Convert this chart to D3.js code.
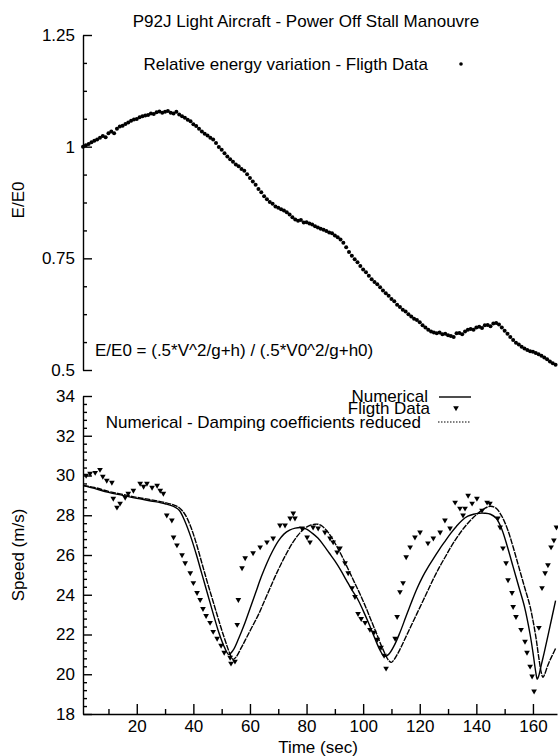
<!DOCTYPE html>
<html>
<head>
<meta charset="utf-8">
<script src="https://cdn.jsdelivr.net/npm/d3@7"></script>
<style>
  html, body { margin: 0; padding: 0; background: #fff; }
  svg { display: block; }
  text { font-family: Arial, "Liberation Sans", sans-serif; fill: #000; }
</style>
</head>
<body>
<svg id="chart" width="558" height="756"></svg>
<script>
// ---- Texts ----
const titleText = "P92J Light Aircraft - Power Off Stall Manouvre";
const energyLegend = "Relative energy variation - Fligth Data";
const energyFormula = "E/E0 = (.5*V^2/g+h) / (.5*V0^2/g+h0)";
const speedLegend = ["Numerical", "Fligth Data", "Numerical - Damping coefficients reduced"];

// ---- Tick values and labels ----
const energyTicks = [0.5, 0.75, 1, 1.25];
const energyTickLabels = ["0.5", "0.75", "1", "1.25"];
const speedTicks = [18, 20, 22, 24, 26, 28, 30, 32, 34];
const speedTickLabels = ["18", "20", "22", "24", "26", "28", "30", "32", "34"];
const timeTicks = [20, 40, 60, 80, 100, 120, 140, 160];
const timeTickLabels = ["20", "40", "60", "80", "100", "120", "140", "160"];
const timeMinorTicks = [10, 30, 50, 70, 90, 110, 130, 150];

// ---- Relative energy, flight data (one sample per second from t = 1 s) ----
const energyTime = d3.range(1, 169);
const energyValues = [
  1.000,1.003,1.006,1.010,1.013,1.016,1.020,1.024,1.021,1.030,
  1.034,1.030,1.040,1.045,1.047,1.051,1.054,1.058,1.061,1.062,
  1.066,1.068,1.070,1.071,1.074,1.073,1.077,1.079,1.076,1.078,
  1.080,1.076,1.074,1.078,1.072,1.068,1.065,1.060,1.057,1.050,
  1.046,1.040,1.034,1.029,1.025,1.020,1.016,1.008,0.999,0.993,
  0.985,0.978,0.972,0.966,0.960,0.956,0.950,0.946,0.938,0.930,
  0.922,0.915,0.905,0.898,0.889,0.882,0.876,0.872,0.866,0.863,
  0.860,0.857,0.853,0.848,0.842,0.837,0.834,0.836,0.830,0.831,
  0.828,0.826,0.822,0.819,0.816,0.814,0.811,0.808,0.806,0.801,
  0.797,0.792,0.785,0.775,0.764,0.756,0.748,0.741,0.733,0.725,
  0.719,0.711,0.703,0.697,0.692,0.685,0.678,0.672,0.666,0.659,
  0.654,0.646,0.641,0.635,0.631,0.625,0.620,0.615,0.612,0.607,
  0.600,0.595,0.590,0.586,0.584,0.582,0.584,0.580,0.581,0.578,
  0.576,0.574,0.582,0.583,0.580,0.586,0.590,0.592,0.590,0.595,
  0.597,0.594,0.600,0.601,0.598,0.604,0.605,0.602,0.595,0.588,
  0.581,0.574,0.567,0.561,0.557,0.552,0.548,0.545,0.542,0.541,
  0.538,0.535,0.532,0.528,0.524,0.519,0.515,0.512
];

// ---- Speed, numerical model ----
const numTime = [1,5,10,15,20,25,30,33,35,37,39,41,43,45,47,49,51,52.5,54,56,
  58,60,62,64,66,68,70,72,74,76,78,80,82,84,86,88,90,92,94,96,
  98,100,102,104,106,107.5,109,111,113,115,117,119,121,123,125,127,129,131,133,135,
  137,139,141,143,145,147,149,151,153,155,157,159,160,161,161.5,162,163,164,166,168];
const numSpeed = [29.5,29.35,29.15,29.0,28.85,28.72,28.58,28.45,28.25,27.7,
  26.95,26.05,25.05,24.05,23.05,22.1,21.35,21.0,21.2,21.8,
  22.5,23.3,24.1,24.9,25.6,26.2,26.7,27.05,27.25,27.35,
  27.38,27.3,27.1,26.85,26.5,26.1,25.7,25.25,24.75,24.25,
  23.8,23.2,22.55,21.85,21.2,20.9,21.0,21.45,22.1,22.85,
  23.6,24.3,24.9,25.4,25.85,26.3,26.7,27.1,27.45,27.75,
  27.95,28.05,28.1,28.1,28.05,27.85,27.3,26.4,25.4,24.4,
  23.4,22.0,21.1,20.1,19.75,19.9,20.5,21.1,22.4,23.7];

// ---- Speed, numerical model with reduced damping coefficients ----
const redTime = [1,5,10,15,20,25,30,33,35,37,39,41,43,45,47,49,51,53,54,55,
  57,59,61,63,65,67,69,71,73,75,77,79,81,83,84,85,87,89,91,93,
  95,97,99,101,103,105,107,109,110,111,113,115,117,119,121,123,125,127,129,131,
  133,135,137,139,141,143,145,147,149,151,153,155,157,159,161,162,163,163.5,164,165,
  166,167,168];
const redSpeed = [29.5,29.4,29.2,29.05,28.9,28.78,28.64,28.52,28.38,28.05,
  27.45,26.6,25.6,24.6,23.65,22.7,21.8,21.0,20.75,20.85,
  21.35,21.9,22.45,23.0,23.65,24.3,24.95,25.55,26.1,26.6,
  27.0,27.3,27.48,27.55,27.55,27.5,27.25,26.85,26.35,25.8,
  25.2,24.6,24.0,23.35,22.65,21.95,21.25,20.7,20.6,20.75,
  21.25,21.85,22.45,23.05,23.65,24.25,24.85,25.4,25.9,26.4,
  26.85,27.25,27.6,27.9,28.15,28.35,28.45,28.35,27.95,27.3,
  26.4,25.4,24.4,23.4,21.9,20.9,20.05,19.85,19.95,20.35,
  20.7,21.0,21.3];

// ---- Speed, flight data ----
const flightTime = [2.1,3.5,5.3,7.0,8.0,9.4,11.2,11.7,13.0,14.1,15.9,17.0,18.8,21.2,22.4,23.6,25.4,27.2,28.3,29.4,
  30.6,32.4,33.0,34.2,36.0,37.1,38.9,40.0,41.3,42.4,43.4,44.5,45.9,47.0,48.4,49.8,50.9,53.0,53.3,54.7,
  55.5,55.9,57.2,58.3,61.1,63.6,66.0,68.2,70.6,72.4,74.2,75.3,75.9,78.4,80.2,81.2,82.3,84.1,86.5,88.3,
  89.4,90.8,91.8,93.6,94.7,96.1,97.1,98.2,99.3,100.7,102.4,103.8,105.0,106.3,107.4,108.1,111.3,112.0,113.0,114.1,
  115.2,116.6,118.3,120.1,122.9,124.8,127.2,128.9,130.7,132.5,134.2,135.3,136.0,137.1,138.5,140.2,142.0,143.8,144.8,147.6,
  148.4,149.4,150.5,151.2,152.6,153.0,154.0,155.8,157.2,157.9,159.0,159.7,160.4,162.1,163.2,164.3,165.3,166.4,167.4,168.3];
const flightSpeed = [30.0,30.1,30.15,30.3,29.95,29.75,29.65,28.85,28.4,28.6,28.9,29.1,29.25,29.6,29.45,29.6,29.4,29.5,29.25,29.1,
  28.0,27.75,26.9,26.5,26.0,25.6,25.1,24.6,24.1,23.75,23.3,22.95,22.6,22.15,21.8,21.45,21.1,20.85,20.55,20.65,
  22.5,23.75,25.35,25.85,26.1,26.4,26.65,26.85,27.5,27.5,27.85,28.1,27.85,27.35,26.9,26.65,27.4,27.35,27.15,26.85,
  26.65,26.15,26.35,25.6,25.1,24.35,23.9,23.05,22.8,22.6,22.25,22.1,21.75,21.35,20.95,20.3,21.8,22.9,24.15,24.6,
  25.9,26.4,26.9,27.15,26.6,26.85,27.15,27.75,27.35,28.65,28.35,28.0,28.35,29.0,28.6,28.85,28.25,28.65,28.6,27.85,
  27.4,26.35,25.6,24.75,24.1,23.4,22.9,22.25,21.65,21.1,20.4,19.9,19.15,22.35,24.35,25.1,25.5,26.4,26.75,27.4];

// ---- Scales ----
const svg = d3.select("#chart");
const x = d3.scaleLinear().domain([1, 168.5]).range([83, 557]);
const yE = d3.scaleLinear().domain([0.5, 1.25]).range([370, 35]);
const yV = d3.scaleLinear().domain([18, 34]).range([714, 396]);

const FS = "17px";

function styleAxis(g) {
  g.attr("font-size", null).attr("font-family", null);
  g.selectAll("text").style("font-size", FS);
  g.selectAll("line, path").attr("stroke", "#000").attr("stroke-width", 1.4);
}

// ---- Title ----
svg.append("text").attr("x", 306).attr("y", 27).attr("text-anchor", "middle")
  .style("font-size", FS).text(titleText);

// ---- Energy panel axis ----
const gE = svg.append("g").attr("transform", "translate(83,0)");
gE.call(d3.axisLeft(yE).tickValues(energyTicks)
  .tickFormat((d, i) => energyTickLabels[i])
  .tickSize(-9).tickSizeOuter(0).tickPadding(8));
styleAxis(gE);
const energyMinor = d3.range(0, 13).filter(i => i % 4 !== 0).map(i => 0.5 + i * 0.0625);
const gEm = gE.append("g").call(d3.axisLeft(yE).tickValues(energyMinor).tickSize(-4).tickFormat(""));
gEm.select(".domain").remove();
styleAxis(gEm);

svg.append("text").attr("transform", "translate(24,200) rotate(-90)")
  .attr("text-anchor", "middle").style("font-size", FS).text("E/E0");

// energy flight data dots
svg.append("g").selectAll("circle")
  .data(energyTime.map((t, i) => [t, energyValues[i]]))
  .join("circle")
  .attr("cx", d => x(d[0])).attr("cy", d => yE(d[1])).attr("r", 2).attr("fill", "#000");

// energy legend and formula
svg.append("text").attr("x", 428).attr("y", 70).attr("text-anchor", "end")
  .style("font-size", FS).text(energyLegend);
svg.append("circle").attr("cx", 461).attr("cy", 64).attr("r", 1.8).attr("fill", "#000");
svg.append("text").attr("x", 95).attr("y", 356).style("font-size", FS).text(energyFormula);

// ---- Speed panel axes ----
const gV = svg.append("g").attr("transform", "translate(83,0)");
gV.call(d3.axisLeft(yV).tickValues(speedTicks)
  .tickFormat((d, i) => speedTickLabels[i])
  .tickSize(-9).tickSizeOuter(0).tickPadding(8));
styleAxis(gV);
const speedMinor = d3.range(0, 41).filter(i => i % 5 !== 0).map(i => 18 + i * 0.4);
const gVm = gV.append("g").call(d3.axisLeft(yV).tickValues(speedMinor).tickSize(-4).tickFormat(""));
gVm.select(".domain").remove();
styleAxis(gVm);

const gX = svg.append("g").attr("transform", "translate(0,714)");
gX.call(d3.axisBottom(x).tickValues(timeTicks)
  .tickFormat((d, i) => timeTickLabels[i])
  .tickSize(-10).tickSizeOuter(0).tickPadding(6));
styleAxis(gX);
const gXm = gX.append("g").call(d3.axisBottom(x).tickValues(timeMinorTicks).tickSize(-5).tickFormat(""));
gXm.select(".domain").remove();
styleAxis(gXm);

svg.append("text").attr("x", 318).attr("y", 753).attr("text-anchor", "middle")
  .style("font-size", FS).text("Time (sec)");
svg.append("text").attr("transform", "translate(24,555) rotate(-90)")
  .attr("text-anchor", "middle").style("font-size", FS).text("Speed (m/s)");

// ---- Speed curves ----
const line = d3.line().x(d => x(d[0])).y(d => yV(d[1])).curve(d3.curveCatmullRom.alpha(0.5));
svg.append("path").datum(numTime.map((t, i) => [t, numSpeed[i]]))
  .attr("d", line).attr("fill", "none").attr("stroke", "#000").attr("stroke-width", 1.4);
svg.append("path").datum(redTime.map((t, i) => [t, redSpeed[i]]))
  .attr("d", line).attr("fill", "none").attr("stroke", "#000").attr("stroke-width", 1.4)
  .attr("stroke-dasharray", "6,1");

// flight data triangles (pointing down)
const tri = d3.symbol().type(d3.symbolTriangle).size(14);
svg.append("g").selectAll("path")
  .data(flightTime.map((t, i) => [t, flightSpeed[i]]))
  .join("path")
  .attr("d", tri)
  .attr("transform", d => `translate(${x(d[0])},${yV(d[1])}) rotate(180)`)
  .attr("fill", "#000");

// ---- Speed legend ----
const legY = [yV(34) + 6, yV(34) + 18, yV(34) + 32];
const legEnd = [428, 430, 421];
speedLegend.forEach((s, i) => {
  svg.append("text").attr("x", legEnd[i]).attr("y", legY[i]).attr("text-anchor", "end")
    .style("font-size", FS).text(s);
});
svg.append("line").attr("x1", 439).attr("x2", 471).attr("y1", legY[0] - 5).attr("y2", legY[0] - 5)
  .attr("stroke", "#000").attr("stroke-width", 1.4);
svg.append("path").attr("d", tri)
  .attr("transform", `translate(456,${legY[1] - 6}) rotate(180)`).attr("fill", "#000");
svg.append("line").attr("x1", 438).attr("x2", 470).attr("y1", legY[2] - 6).attr("y2", legY[2] - 6)
  .attr("stroke", "#000").attr("stroke-width", 1.2).attr("stroke-dasharray", "1.5,1.5");
</script>
</body>
</html>
